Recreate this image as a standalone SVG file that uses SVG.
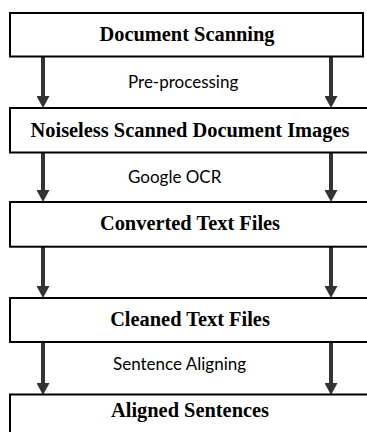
<svg xmlns="http://www.w3.org/2000/svg" width="367" height="432" viewBox="0 0 367 432">
<style>
.box{fill:#fff;stroke:#000;stroke-width:2}
.title{font-family:"Liberation Serif","Times New Roman",serif;font-weight:bold;font-size:20.4px;fill:#000;text-anchor:middle}
.lbl{font-family:Lato,"Liberation Sans",sans-serif;font-size:17px;fill:#000}
.arr{stroke:#333;stroke-width:4;fill:none;marker-end:url(#ah)}
</style>
<defs>
<marker id="ah" markerUnits="userSpaceOnUse" markerWidth="12" markerHeight="13" refX="6" refY="6.5" orient="auto" viewBox="0 0 12 13">
<path d="M0,0 L12,6.5 L0,13 z" fill="#333"/>
</marker>
</defs>
<g id="connectors">
<line class="arr" x1="43" y1="57" x2="43" y2="102"/>
<line class="arr" x1="331" y1="57" x2="331" y2="102"/>
<line class="arr" x1="43" y1="153" x2="43" y2="196"/>
<line class="arr" x1="331" y1="153" x2="331" y2="196"/>
<line class="arr" x1="43" y1="247" x2="43" y2="292"/>
<line class="arr" x1="331" y1="247" x2="331" y2="292"/>
<line class="arr" x1="43" y1="342" x2="43" y2="389"/>
<line class="arr" x1="331" y1="342" x2="331" y2="389"/>
<text class="lbl" x="128" y="88">Pre-processing</text>
<text class="lbl" x="128" y="183">Google OCR</text>
<text class="lbl" x="113" y="370">Sentence Aligning</text>
</g>
<g id="n1">
<rect class="box" x="10" y="13" width="353" height="43.5"/>
<text class="title" x="187" y="41">Document Scanning</text>
</g>
<g id="n2">
<rect class="box" x="10" y="108" width="370" height="44.5"/>
<text class="title" x="190" y="136.5">Noiseless Scanned Document Images</text>
</g>
<g id="n3">
<rect class="box" x="10" y="202" width="370" height="44.7"/>
<text class="title" x="190" y="230">Converted Text Files</text>
</g>
<g id="n4">
<rect class="box" x="10" y="298" width="370" height="44"/>
<text class="title" x="190" y="326">Cleaned Text Files</text>
</g>
<g id="n5">
<rect class="box" x="10" y="394.5" width="370" height="45"/>
<text class="title" x="190" y="417">Aligned Sentences</text>
</g>
</svg>
